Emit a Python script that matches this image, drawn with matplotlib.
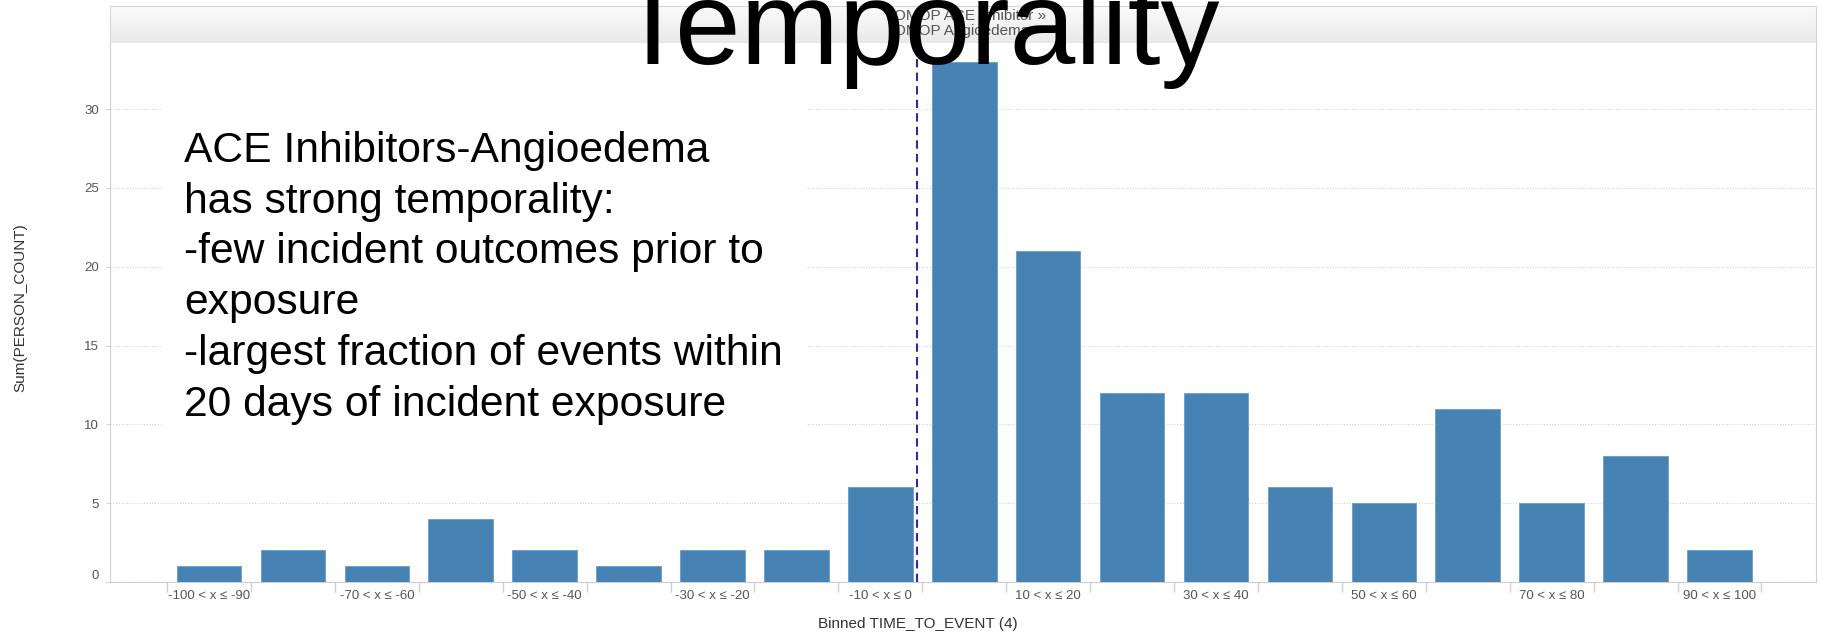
import numpy as np
import matplotlib
matplotlib.use("Agg")
import matplotlib.pyplot as plt
from matplotlib.patches import Rectangle

# binned TIME_TO_EVENT (bin -80 < x <= -70 has no rows, so Tableau drops it)
bin_labels = ["-100 < x ≤ -90", "-90 < x ≤ -80", "-70 < x ≤ -60", "-60 < x ≤ -50",
              "-50 < x ≤ -40", "-40 < x ≤ -30", "-30 < x ≤ -20", "-20 < x ≤ -10",
              "-10 < x ≤ 0", "0 < x ≤ 10", "10 < x ≤ 20", "20 < x ≤ 30",
              "30 < x ≤ 40", "40 < x ≤ 50", "50 < x ≤ 60", "60 < x ≤ 70",
              "70 < x ≤ 80", "80 < x ≤ 90", "90 < x ≤ 100"]
person_count = [1, 2, 1, 4, 2, 1, 2, 2, 6, 33, 21, 12, 12, 6, 5, 11, 5, 8, 2]
y_ticks = [0, 5, 10, 15, 20, 25, 30]

title = "Temporality"
header_lines = ["OMOP ACE Inhibitor »", "OMOP Angioedema"]
note = ("ACE Inhibitors-Angioedema\nhas strong temporality:\n-few incident outcomes prior to\n"
        "exposure\n-largest fraction of events within\n20 days of incident exposure")

W, H = 1822, 639
plt.rcParams["font.family"] = ["Liberation Sans", "DejaVu Sans"]

def fx(px):
    return px / W

def fy(py):
    return 1 - py / H

fig = plt.figure(figsize=(W / 100, H / 100), dpi=100)
grey = "#555555"
light = "#cfcfcf"

# header strip with gradient
hax = fig.add_axes([fx(110), fy(43), fx(1816) - fx(110), fy(6) - fy(43)])
grad = np.linspace(0, 1, 64).reshape(-1, 1)
hax.imshow(grad, cmap=matplotlib.colors.LinearSegmentedColormap.from_list("g", ["#fbfbfb", "#e9e9e9"]),
           aspect="auto", extent=[0, 1, 1, 0])
hax.set_xticks([])
hax.set_yticks([])
for s in hax.spines.values():
    s.set_color("#d6d6d6")

ax = fig.add_axes([fx(110), fy(582), fx(1816) - fx(110), fy(43) - fy(582)])
x = np.arange(len(person_count))
ax.bar(x, person_count, width=0.77, color="#4682b4", edgecolor="#6a9bc6", linewidth=0.6, zorder=3)

zero_idx = bin_labels.index("0 < x ≤ 10")
ax.axvline(zero_idx - 0.56, color="#2c2c9c", linewidth=1.5, dashes=(4, 2.5), zorder=4)

ax.set_xlim(-1.18, 19.15)
ax.set_ylim(0, 34.2)
ax.set_yticks(y_ticks)
ax.yaxis.grid(True, color="#d2d2d2", linestyle=(0, (1, 1.5)), linewidth=0.8, zorder=0)
ax.set_xticks(x)
ax.set_xticklabels([lab if i % 2 == 0 else "" for i, lab in enumerate(bin_labels)])
ax.set_xticks(np.arange(len(person_count) + 1) - 0.5, minor=True)
ax.tick_params(axis="x", which="major", length=0, pad=5.5, labelsize=9.5, labelcolor=grey)
ax.tick_params(axis="x", which="minor", length=7, color=light, width=1)
ax.tick_params(axis="y", length=3, color=light, pad=5, labelsize=9.5, labelcolor=grey)
ax.get_yticklabels()[0].set_va("bottom")
for side in ["left", "bottom", "right"]:
    ax.spines[side].set_color(light)
ax.spines["top"].set_visible(False)

fig.text(fx(918), fy(624), "Binned TIME_TO_EVENT (4)", ha="center", va="center", fontsize=11, color="#333333")
fig.text(fx(20), fy(308), "Sum(PERSON_COUNT)", ha="center", va="center", rotation=90, fontsize=11, color="#333333")

for i, line in enumerate(header_lines):
    fig.text(fx(894), fy(16.5 + 14.5 * i), line, ha="left", va="center", fontsize=11, color=grey, zorder=2)

fig.text(fx(918), fy(64), title, ha="center", va="baseline", fontsize=85, color="black", zorder=5)

fig.patches.append(Rectangle((fx(161), fy(445)), fx(806) - fx(161), fy(95) - fy(445),
                             transform=fig.transFigure, facecolor="white", edgecolor="none", zorder=3))
# va="baseline" on multi-line text sits on the last line's baseline
fig.text(fx(184), fy(416), note, ha="left", va="baseline", fontsize=30.7, linespacing=1.35,
         color="black", zorder=6)

fig.savefig("out.png", dpi=100)
